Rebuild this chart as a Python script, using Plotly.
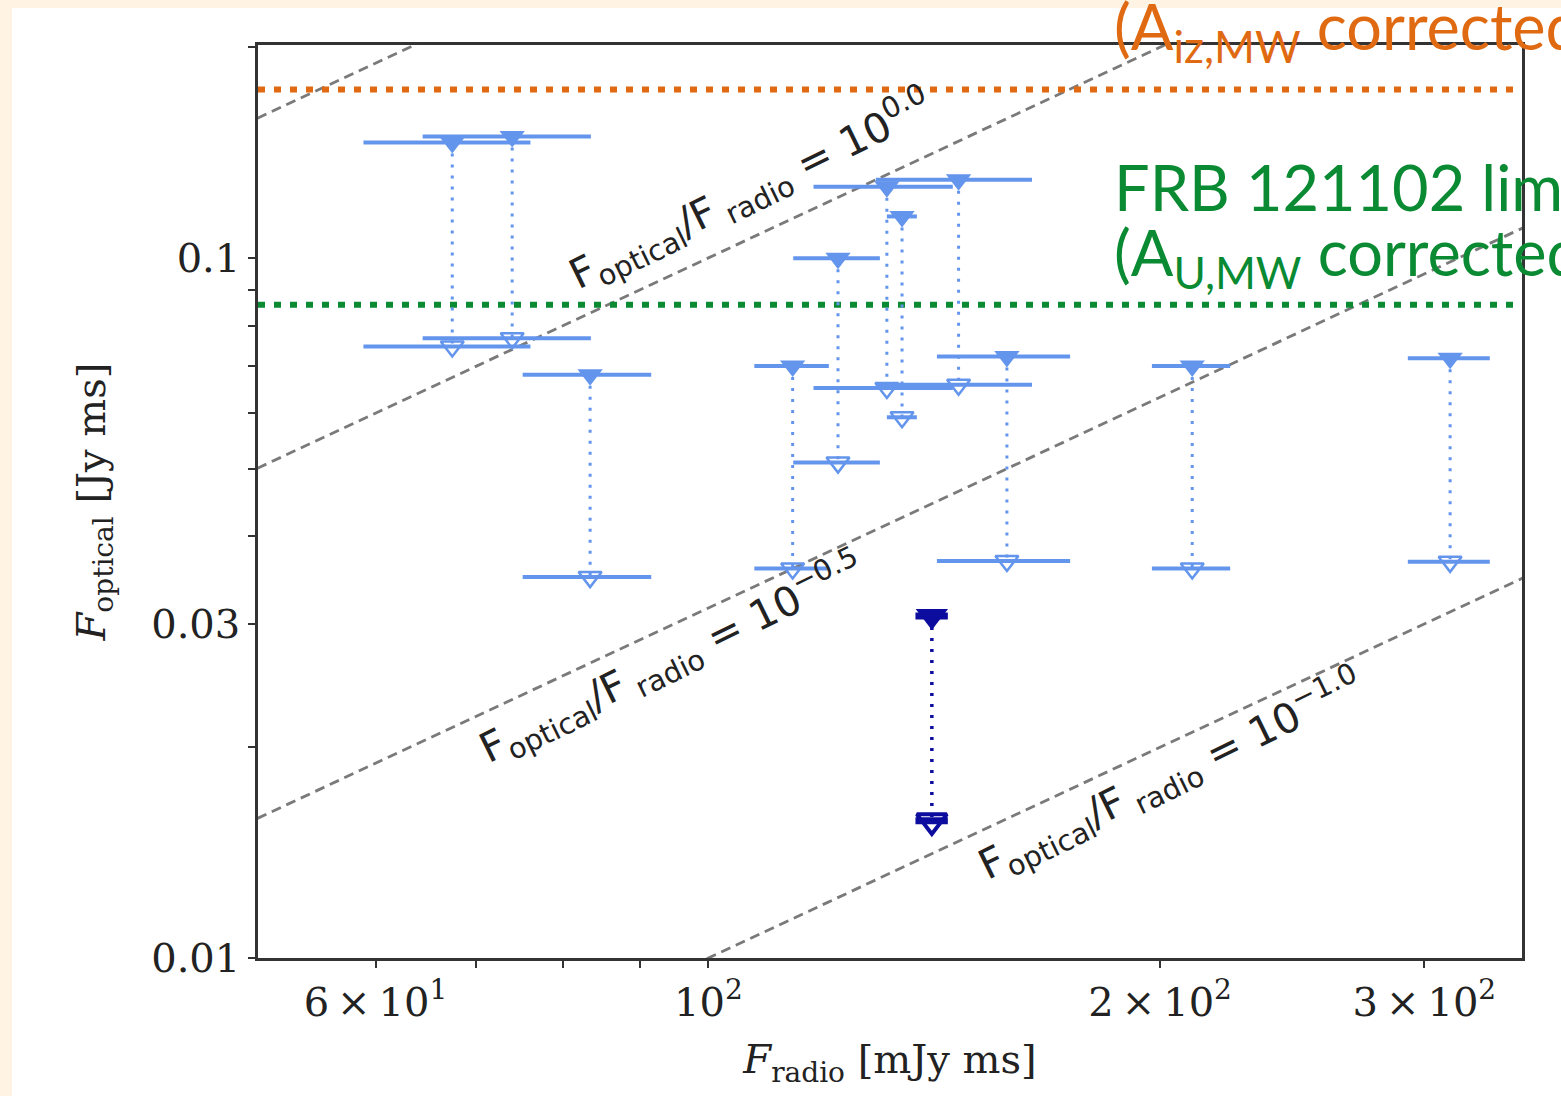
import math
import plotly.graph_objects as go

# ---------------- data ----------------
radio = [67.5, 74.0, 83.4, 113.8, 122.0, 131.5, 134.6, 146.8, 158.1, 210.1, 312.1]
radio_err = [8.6, 9.5, 8.2, 6.5, 8.1, 14.0, 3.1, 17.5, 16.1, 12.6, 19.6]
opt_upper = [0.1462, 0.1491, 0.0681, 0.0701, 0.0999, 0.1264, 0.1146, 0.1293, 0.0723, 0.0701, 0.0719]
opt_lower = [0.0747, 0.0768, 0.0350, 0.0360, 0.0510, 0.0652, 0.0592, 0.0659, 0.0369, 0.0360, 0.0368]

frb_radio = [140.9]
frb_err = [3.5]
frb_upper = [0.0308]
frb_lower = [0.0157]

ratio_exponents = [0.5, 0.0, -0.5, -1.0]
label_exponents = ["0.0", "-0.5", "-1.0"]
label_x = [106.7, 94.6, 203.3]
label_y = [0.125, 0.0268, 0.01826]

limit_iz = 0.174
limit_u = 0.0857

x_range = [50.1, 348.5]
y_range = [0.01, 0.2014]

x_tickvals = [60, 100, 200, 300]
x_ticktext = ["6\u2009\u00d7\u200910<sup>1</sup>", "10<sup>2</sup>",
              "2\u2009\u00d7\u200910<sup>2</sup>", "3\u2009\u00d7\u200910<sup>2</sup>"]
x_minor = [50, 70, 80, 90]
y_tickvals = [0.01, 0.03, 0.1]
y_ticktext = ["0.01", "0.03", "0.1"]
y_minor = [0.02, 0.04, 0.05, 0.06, 0.07, 0.08, 0.09, 0.2]

LIGHT = "#6495ED"
DARK = "#0c0c9e"
ORANGE = "#E06A12"
GREEN = "#0A8A32"
CREAM = "#FFF4E3"
SERIF = "DejaVu Serif"
INK = "#222222"

fig = go.Figure()

# diagonal ratio lines
for e in ratio_exponents:
    xs = [30, 500]
    ys = [10 ** e * v / 1000.0 for v in xs]
    fig.add_trace(go.Scatter(x=xs, y=ys, mode="lines",
                             line=dict(color="#7a7a7a", width=2.8, dash="10px,6px"),
                             hoverinfo="skip", showlegend=False))

# horizontal limit lines
for val, col in [(limit_iz, ORANGE), (limit_u, GREEN)]:
    fig.add_trace(go.Scatter(x=[x_range[0], 345], y=[val, val], mode="lines",
                             line=dict(color=col, width=6, dash="7px,9px"),
                             hoverinfo="skip", showlegend=False))

# vertical dotted connectors
def connectors(xv, up, lo):
    xs, ys = [], []
    for a, b, c in zip(xv, up, lo):
        xs += [a, a, None]
        ys += [b, c, None]
    return xs, ys

cx, cy = connectors(radio, opt_upper, opt_lower)
fig.add_trace(go.Scatter(x=cx, y=cy, mode="lines",
                         line=dict(color=LIGHT, width=3, dash="3px,8px"),
                         hoverinfo="skip", showlegend=False))
dx, dy = connectors(frb_radio, frb_upper, frb_lower)
fig.add_trace(go.Scatter(x=dx, y=dy, mode="lines",
                         line=dict(color=DARK, width=3.5, dash="3px,8px"),
                         hoverinfo="skip", showlegend=False))

# markers with horizontal error bars
fig.add_trace(go.Scatter(x=radio, y=opt_upper, mode="markers",
                         marker=dict(symbol="triangle-down", size=22, color=LIGHT),
                         error_x=dict(type="data", array=radio_err, color=LIGHT, thickness=4, width=0),
                         showlegend=False))
fig.add_trace(go.Scatter(x=radio, y=opt_lower, mode="markers",
                         marker=dict(symbol="triangle-down-open", size=20, color=LIGHT, line=dict(width=2.5, color=LIGHT)),
                         error_x=dict(type="data", array=radio_err, color=LIGHT, thickness=4, width=0),
                         showlegend=False))
fig.add_trace(go.Scatter(x=frb_radio, y=frb_upper, mode="markers",
                         marker=dict(symbol="triangle-down", size=28, color=DARK),
                         error_x=dict(type="data", array=frb_err, color=DARK, thickness=7, width=0),
                         showlegend=False))
fig.add_trace(go.Scatter(x=frb_radio, y=frb_lower, mode="markers",
                         marker=dict(symbol="triangle-down-open", size=26, color=DARK, line=dict(width=4, color=DARK)),
                         error_x=dict(type="data", array=frb_err, color=DARK, thickness=7, width=0),
                         showlegend=False))

annotations = []
for ex, lx, ly in zip(label_exponents, label_x, label_y):
    exs = ex.replace("-", "\u2212")
    annotations.append(dict(
        x=math.log10(lx), y=math.log10(ly), xref="x", yref="y",
        text="F<sub>optical</sub>/F<sub> radio</sub> = 10<sup>" + exs + "</sup>",
        showarrow=False, textangle=-26,
        font=dict(family="DejaVu Sans", size=41, color=INK),
        xanchor="center", yanchor="middle"))

def px_to_paper_y(py):
    return (958 - py) / 913.0

def px_to_paper_x(px):
    return (px - 258) / 1264.0

annotations.append(dict(x=px_to_paper_x(1112), y=px_to_paper_y(30), xref="paper", yref="paper",
                        text="(A<sub>iz,MW</sub> corrected)", showarrow=False,
                        xanchor="left", yanchor="middle",
                        font=dict(family="Lato", size=63, color=ORANGE)))
annotations.append(dict(x=px_to_paper_x(1112), y=px_to_paper_y(186), xref="paper", yref="paper",
                        text="FRB 121102 limit", showarrow=False,
                        xanchor="left", yanchor="middle",
                        font=dict(family="Lato", size=63, color=GREEN)))
annotations.append(dict(x=px_to_paper_x(1112), y=px_to_paper_y(256), xref="paper", yref="paper",
                        text="(A<sub>U,MW</sub> corrected)", showarrow=False,
                        xanchor="left", yanchor="middle",
                        font=dict(family="Lato", size=63, color=GREEN)))

shapes = [
    # white page area over cream border
    dict(type="rect", xref="paper", yref="paper", x0=px_to_paper_x(12), x1=px_to_paper_x(1600),
         y0=px_to_paper_y(1120), y1=px_to_paper_y(8), fillcolor="white", line=dict(width=0), layer="below"),
    # longer major ticks
    dict(type="line", xref="x", yref="paper", x0=2, x1=2, y0=0, y1=-13 / 913.0,
         line=dict(color="#333333", width=2)),
    dict(type="line", xref="paper", yref="y", x0=0, x1=-13 / 1264.0, y0=-1, y1=-1,
         line=dict(color="#333333", width=2)),
    dict(type="line", xref="paper", yref="y", x0=0, x1=-13 / 1264.0, y0=-2, y1=-2,
         line=dict(color="#333333", width=2)),
]

fig.update_layout(
    width=1561, height=1096,
    margin=dict(l=258, r=39, t=45, b=138),
    paper_bgcolor=CREAM, plot_bgcolor="white",
    annotations=annotations, shapes=shapes,
    showlegend=False,
)
fig.update_xaxes(type="log", range=[math.log10(x_range[0]), math.log10(x_range[1])],
                 tickvals=x_tickvals, ticktext=x_ticktext,
                 ticks="outside", ticklen=7, tickwidth=1.5, tickcolor="#333333",
                 minor=dict(tickvals=x_minor, ticks="outside", ticklen=7, tickwidth=1.5, tickcolor="#333333"),
                 showgrid=False, zeroline=False,
                 showline=True, linecolor="#333333", linewidth=2.5, mirror=True,
                 tickfont=dict(family=SERIF, size=40, color=INK),
                 title=dict(text="<i>F</i><sub>radio</sub> [mJy ms]", standoff=22,
                            font=dict(family=SERIF, size=40, color=INK)))
fig.update_yaxes(type="log", range=[math.log10(y_range[0]), math.log10(y_range[1])],
                 tickvals=y_tickvals, ticktext=y_ticktext,
                 ticks="outside", ticklen=7, tickwidth=1.5, tickcolor="#333333",
                 minor=dict(tickvals=y_minor, ticks="outside", ticklen=7, tickwidth=1.5, tickcolor="#333333"),
                 showgrid=False, zeroline=False,
                 showline=True, linecolor="#333333", linewidth=2.5, mirror=True,
                 tickfont=dict(family=SERIF, size=40, color=INK),
                 title=dict(text="<i>F</i><sub>optical</sub> [Jy ms]", standoff=34,
                            font=dict(family=SERIF, size=40, color=INK)))

fig.write_html("out.html")
